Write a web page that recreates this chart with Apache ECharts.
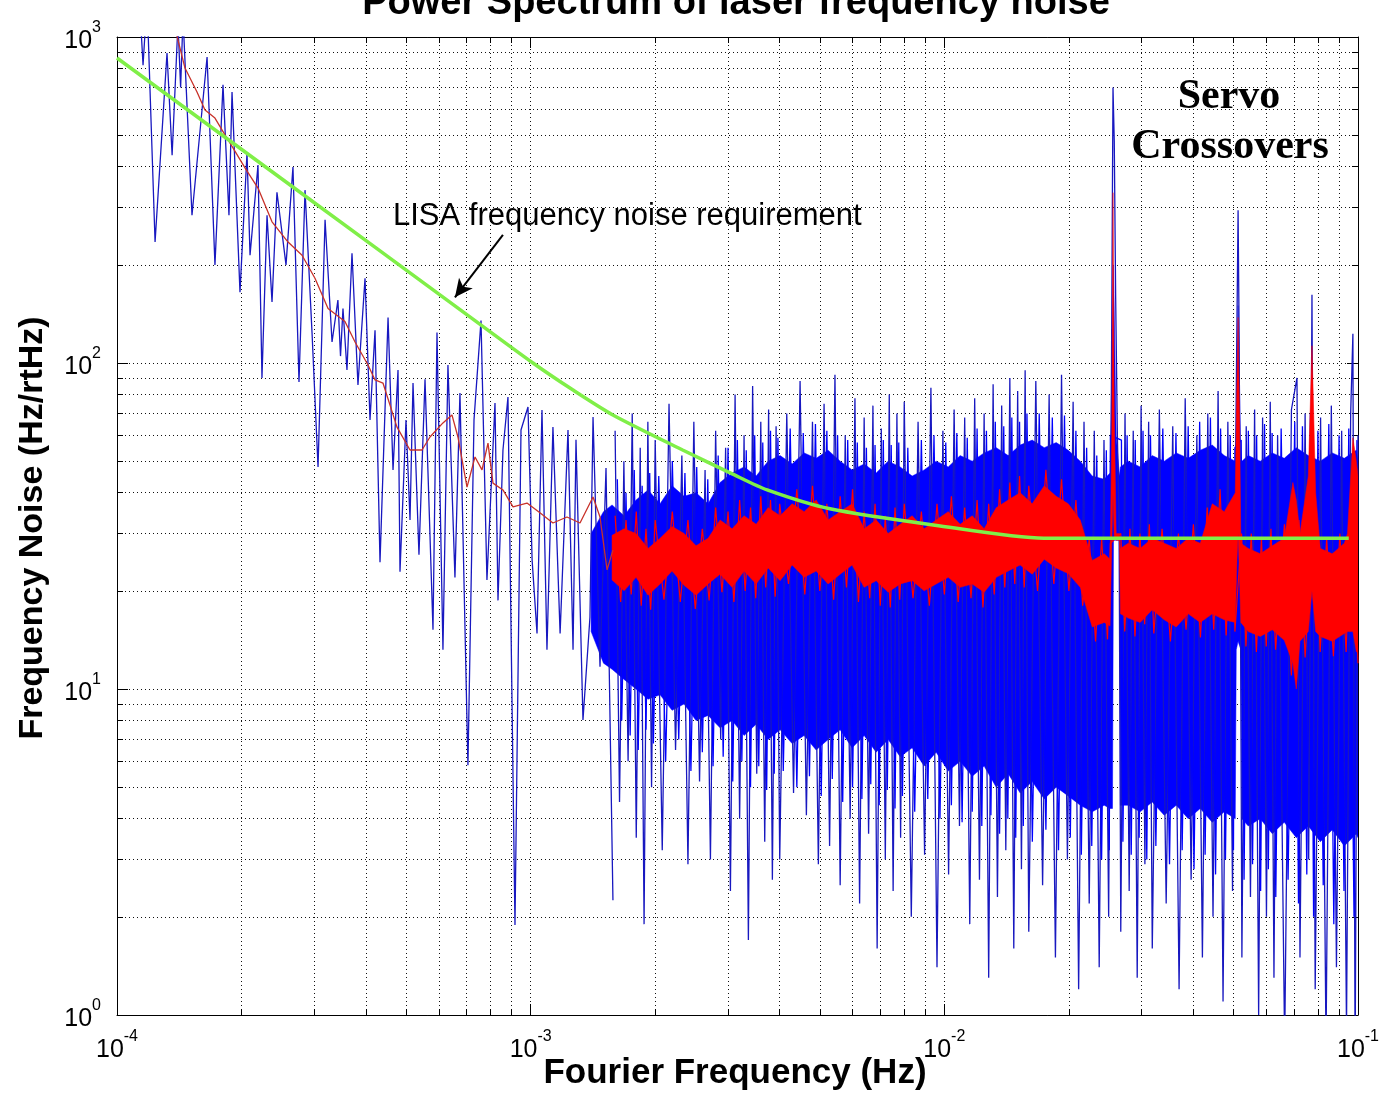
<!DOCTYPE html>
<html>
<head>
<meta charset="utf-8">
<title>Power Spectrum of laser frequency noise</title>
<script src="https://cdn.jsdelivr.net/npm/echarts@6.0.0/dist/echarts.min.js"></script>
<style>
  html, body { margin: 0; padding: 0; background: #fff; }
  #chart { width: 1385px; height: 1103px; }
</style>
</head>
<body>
<div id="chart"></div>
<script>
// all frequencies below are in mHz, noise values in Hz/rtHz

// raw spectrum, low-frequency part (individual bins still visible)
const blueSparse = [
  [0.100, 1400], [0.1063, 1800], [0.1137, 1200], [0.1156, 820], [0.1182, 1300], [0.1236, 235],
  [0.1321, 893], [0.1359, 434], [0.1404, 1100], [0.1425, 700], [0.1444, 1150], [0.1518, 284],
  [0.1651, 868], [0.1725, 200], [0.1804, 713], [0.1865, 284], [0.1897, 678], [0.1983, 165],
  [0.2062, 441], [0.2097, 214], [0.2192, 405], [0.2241, 89.9], [0.2305, 284], [0.2370, 154],
  [0.2436, 334], [0.2562, 200], [0.2663, 399], [0.2754, 87.4], [0.2848, 339], [0.2961, 124],
  [0.3062, 48.0], [0.3184, 275], [0.3310, 116], [0.3420, 156], [0.3470, 105], [0.3518, 147],
  [0.3597, 95.2], [0.3699, 217], [0.3824, 85.6], [0.3977, 182], [0.4089, 66.9], [0.4205, 126],
  [0.4323, 24.5], [0.4521, 138], [0.4648, 47.0], [0.4779, 95.2], [0.4832, 22.9], [0.4996, 66.9],
  [0.5109, 33.0], [0.5195, 86.8], [0.5370, 25.8], [0.5554, 89.2], [0.5806, 15.2], [0.5937, 124],
  [0.6137, 13.2], [0.6310, 98.6], [0.6561, 22.0], [0.6746, 80.9], [0.7053, 5.84], [0.7295, 66.9],
  [0.7585, 135], [0.7840, 21.6], [0.8199, 75.4], [0.8337, 18.7], [0.8571, 54.1], [0.8813, 78.6],
  [0.9164, 1.89], [0.9476, 62.3], [0.9852, 73.3], [1.008, 24.9], [1.036, 14.8], [1.065, 71.7],
  [1.095, 13.2], [1.132, 63.6], [1.178, 14.8], [1.231, 62.3], [1.266, 13.2], [1.287, 58.1],
  [1.338, 8.03], [1.391, 16.6], [1.415, 68.3], [1.471, 11.7], [1.521, 47.6], [1.581, 2.25]
];

// raw spectrum, dense part: outer spikes up and down
const blueDense = [
  [1.60, 62], [1.64, 4.5], [1.68, 50], [1.72, 6.0], [1.76, 70], [1.80, 3.5], [1.84, 55], [1.88, 1.9],
  [1.92, 66], [1.96, 5.0],
  [2.00, 58], [2.08, 3.2], [2.16, 75], [2.24, 6.5], [2.32, 52], [2.40, 2.9], [2.48, 66], [2.56, 5.2],
  [2.64, 47], [2.72, 3.0], [2.80, 62], [2.88, 7.0], [2.96, 55], [3.04, 2.4], [3.12, 80], [3.20, 4.0],
  [3.28, 60], [3.36, 1.7], [3.44, 85], [3.52, 5.5], [3.60, 66], [3.68, 3.4], [3.76, 72], [3.84, 2.6],
  [3.92, 64],
  [4.00, 3.0], [4.16, 70], [4.32, 4.8], [4.48, 88], [4.64, 4.1], [4.80, 66], [4.96, 2.9], [5.12, 75],
  [5.28, 3.3], [5.44, 92], [5.60, 2.5], [5.76, 60], [5.92, 4.0], [6.08, 78], [6.24, 2.2], [6.40, 68],
  [6.56, 3.6], [6.72, 74], [6.88, 1.6], [7.04, 63], [7.20, 3.0], [7.36, 80], [7.52, 2.4], [7.68, 70],
  [7.84, 3.5],
  [8.00, 76], [8.32, 2.0], [8.64, 66], [8.96, 3.1], [9.28, 84], [9.60, 1.4], [9.92, 62], [10.24, 2.7],
  [10.56, 72], [10.88, 3.8], [11.20, 68], [11.52, 1.9], [11.84, 78], [12.16, 2.6], [12.48, 70],
  [12.80, 1.3], [13.12, 86], [13.44, 2.3], [13.76, 74], [14.08, 3.2], [14.40, 90], [14.72, 1.6],
  [15.04, 82], [15.36, 2.8], [15.68, 95],
  [16.00, 1.8], [16.64, 88], [17.28, 2.5], [17.92, 80], [18.56, 1.5], [19.20, 92], [19.84, 3.0],
  [20.48, 76], [21.12, 1.2], [21.76, 66], [22.40, 2.2], [23.04, 62], [23.68, 1.4], [24.32, 58],
  [24.96, 2.0],
  [25.40, 150], [25.57, 700], [25.75, 480], [25.95, 160], [26.20, 60], [26.45, 33],
  [26.70, 1.8], [27.34, 70], [27.98, 2.4], [28.62, 62], [29.26, 1.3], [29.90, 74], [30.54, 2.9],
  [31.18, 66], [31.82, 1.6],
  [33.10, 72], [34.38, 2.2], [35.66, 64], [36.94, 1.2], [38.22, 78], [39.50, 2.6], [40.78, 60],
  [42.06, 1.5], [43.34, 70], [44.62, 2.0], [45.90, 82], [47.18, 1.1], [48.46, 66], [49.74, 2.4],
  [50.50, 40], [50.90, 110], [51.30, 294], [51.60, 120], [51.90, 30],
  [52.40, 1.5], [53.68, 64], [54.96, 2.3], [56.24, 72], [57.52, 1.0], [58.80, 68], [60.08, 2.0],
  [61.36, 76], [62.64, 1.3], [63.92, 60],
  [66.48, 0.8], [69.04, 72], [71.20, 90], [72.40, 1.5], [74.50, 70], [76.00, 3.0], [77.40, 162],
  [78.80, 1.2], [81.20, 68], [83.70, 0.8], [86.20, 74], [88.70, 1.4], [91.30, 62], [93.80, 0.9],
  [96.00, 70], [97.20, 123], [98.40, 0.7], [100, 60]
];

// raw spectrum, dense part: shorter spikes hugging the solid core
const blueFuzz = [
  [1.62, 44], [1.66, 8.0], [1.70, 40], [1.74, 7.2], [1.78, 47], [1.82, 6.5], [1.86, 42], [1.90, 7.5],
  [1.94, 46], [1.98, 6.8],
  [2.04, 45], [2.12, 6.0], [2.20, 50], [2.28, 7.0], [2.36, 46], [2.44, 5.6], [2.52, 48], [2.60, 6.4],
  [2.68, 44], [2.76, 5.8], [2.84, 52], [2.92, 6.2], [3.00, 55], [3.08, 5.2], [3.16, 58], [3.24, 6.0],
  [3.32, 54], [3.40, 5.0], [3.48, 60], [3.56, 5.8], [3.64, 57], [3.72, 4.9], [3.80, 62], [3.88, 5.5],
  [3.96, 59],
  [4.08, 5.6], [4.24, 63], [4.40, 5.0], [4.56, 61], [4.72, 5.4], [4.88, 65], [5.04, 4.7], [5.20, 62],
  [5.36, 5.3], [5.52, 60], [5.68, 4.5], [5.84, 58], [6.00, 5.0], [6.16, 57], [6.32, 4.6], [6.48, 55],
  [6.64, 5.1], [6.80, 56], [6.96, 4.4], [7.12, 58], [7.28, 4.9], [7.44, 56], [7.60, 4.3], [7.76, 57],
  [7.92, 4.7],
  [8.16, 55], [8.48, 4.2], [8.80, 58], [9.12, 4.6], [9.44, 60], [9.76, 4.0], [10.08, 57], [10.40, 4.4],
  [10.72, 61], [11.04, 3.9], [11.36, 59], [11.68, 4.2], [12.00, 63], [12.32, 3.8], [12.64, 62],
  [12.96, 4.1], [13.28, 66], [13.60, 3.6], [13.92, 64], [14.24, 4.0], [14.56, 68], [14.88, 3.5],
  [15.20, 66], [15.52, 3.8], [15.84, 70],
  [16.32, 3.4], [16.96, 70], [17.60, 3.7], [18.24, 68], [18.88, 3.2], [19.52, 69], [20.16, 3.5],
  [20.80, 62], [21.44, 3.1], [22.08, 55], [22.72, 3.3], [23.36, 52], [24.00, 3.0], [24.64, 54],
  [25.05, 3.2], [25.20, 60],
  [26.80, 58], [27.02, 3.4], [27.66, 60], [28.30, 3.1], [28.94, 58], [29.58, 3.5], [30.22, 62],
  [30.86, 3.0], [31.50, 60], [32.46, 3.3], [33.74, 63], [35.02, 2.9], [36.30, 61], [37.58, 3.2],
  [38.86, 64], [40.14, 2.8], [41.42, 66], [42.70, 3.1], [43.98, 68], [45.26, 2.7], [46.54, 63],
  [47.82, 3.0], [49.10, 60], [50.00, 3.2], [50.40, 55],
  [52.20, 58], [53.04, 2.6], [54.32, 62], [55.60, 2.9], [56.88, 60], [58.16, 2.4], [59.44, 65],
  [60.72, 2.8], [62.00, 61], [63.28, 2.3], [65.20, 63], [67.76, 2.6], [70.32, 66], [71.80, 2.2],
  [73.40, 64], [75.20, 2.7], [76.70, 70], [78.10, 2.0], [80.00, 62], [82.40, 2.5], [85.00, 65],
  [87.40, 1.9], [90.00, 60], [92.50, 2.4], [95.00, 63], [97.80, 2.0], [99.40, 58]
];

// solid core of the raw spectrum: [mHz, upper, lower]
const blueBand = [
  [1.40, 30, 15], [1.50, 35, 12],
  [1.573, 36.7, 11.5], [1.682, 34, 10.7], [1.798, 38, 10], [1.922, 40.8, 9.3], [2.055, 37, 9.6],
  [2.197, 42, 8.6], [2.349, 39, 9.0], [2.511, 40, 8.0], [2.685, 37, 8.3], [2.870, 43, 7.6],
  [3.069, 46, 8.0], [3.281, 48, 7.2], [3.508, 45, 7.8], [3.750, 50, 7.0], [4.009, 52, 7.5],
  [4.286, 49, 6.8], [4.582, 53, 7.2], [4.899, 51, 6.5], [5.237, 54, 7.0], [5.599, 50, 7.5],
  [5.986, 47, 6.6], [6.400, 49, 7.2], [6.842, 46, 6.4], [7.315, 50, 7.0], [7.820, 48, 6.2],
  [8.361, 45, 6.6], [8.938, 47, 5.8], [9.556, 50, 6.4], [10.22, 48, 5.6], [10.92, 52, 6.0],
  [11.68, 50, 5.4], [12.48, 53, 5.8], [13.35, 55, 5.0], [14.27, 52, 5.5], [15.25, 56, 4.8],
  [16.31, 58, 5.2], [17.44, 55, 4.6], [18.64, 57, 5.0], [19.93, 54, 4.7], [21.31, 50, 4.4],
  [22.78, 45, 4.2], [24.35, 44, 4.4], [25.15, 46, 4.3], [25.50, 120, 4.3], [25.64, 200, 28.6],
  [26.03, 60, 28.6], [26.50, 45, 28.6], [26.65, 48, 4.4], [27.83, 50, 4.4], [29.75, 48, 4.2],
  [31.81, 52, 4.5], [34.01, 50, 4.1], [36.36, 53, 4.4], [38.87, 51, 4.0], [41.56, 54, 4.3],
  [44.43, 56, 3.9], [47.50, 52, 4.2], [50.50, 50, 4.0], [50.78, 60, 13.2], [51.30, 150, 14],
  [52.10, 50, 13.2], [52.40, 50, 4.0], [54.29, 52, 3.8], [58.04, 50, 4.0], [62.05, 53, 3.6],
  [66.34, 51, 3.9], [70.93, 55, 3.5], [75.83, 52, 3.8], [81.07, 50, 3.4], [86.67, 53, 3.7],
  [92.66, 51, 3.3], [99.06, 54, 3.6], [100, 50, 3.5]
];

// averaged spectrum, low-frequency trace
const redTrend = [
  [0.1385, 1050], [0.1460, 803], [0.1561, 678], [0.1632, 597], [0.1725, 564], [0.1824, 501],
  [0.1907, 457], [0.2039, 397], [0.2192, 344], [0.2370, 271], [0.2591, 235], [0.2801, 214],
  [0.3010, 182], [0.3237, 147], [0.3557, 134], [0.3762, 116], [0.4044, 98.6], [0.4205, 88.7],
  [0.4395, 86.8], [0.4752, 63.6], [0.5109, 54.1], [0.5462, 54.1], [0.5709, 59.3], [0.6137, 65.5],
  [0.6452, 69.3], [0.6671, 59.3], [0.7017, 41.6], [0.7336, 51.5], [0.7627, 47.0], [0.7886, 56.8],
  [0.8108, 42.8], [0.8571, 40.8], [0.9063, 36.2], [0.9797, 37.2], [1.053, 34.7], [1.132, 32.3],
  [1.224, 33.7], [1.316, 32.3], [1.415, 38.8], [1.471, 33.7], [1.530, 23.2], [1.581, 26.7]
];

// averaged spectrum, dense part: [mHz, upper, lower]
const redBand = [
  [1.573, 29.6, 21.6], [1.682, 31, 20], [1.798, 30, 22], [1.922, 27, 19.4], [2.055, 29, 21],
  [2.197, 31.5, 23], [2.349, 30, 20.8], [2.511, 27.5, 19.4], [2.685, 29, 21], [2.870, 33, 22.5],
  [3.069, 31, 20.5], [3.281, 34, 23], [3.508, 32, 21], [3.750, 36, 23.5], [4.009, 34, 21.5],
  [4.286, 37, 24], [4.582, 35, 22], [4.899, 38, 23], [5.237, 33, 21], [5.599, 35, 22.5],
  [5.986, 37, 24], [6.400, 31, 20.5], [6.842, 33, 21.5], [7.315, 30, 19.8], [7.820, 32, 21],
  [8.361, 34, 21.5], [8.938, 31, 20], [9.556, 33, 21], [10.22, 35, 22], [10.92, 32, 20.5],
  [11.68, 34, 21], [12.48, 31, 19.8], [13.35, 36, 22], [14.27, 38, 23], [15.25, 40, 24],
  [16.31, 37, 22.5], [17.44, 42, 25], [18.64, 39, 23.5], [19.93, 37, 22.6], [21.31, 33, 20.5],
  [22.78, 24.8, 15.5], [24.35, 26, 16], [25.15, 25, 15.6], [25.40, 60, 28], [25.57, 333, 40],
  [25.75, 70, 29], [26.03, 30, 28.6], [26.50, 30, 28.6], [26.65, 27, 17], [27.83, 28, 16.5],
  [29.75, 27, 16], [31.81, 29, 17.5], [34.01, 28, 16.3], [36.36, 27, 15.5], [38.87, 29, 17],
  [41.56, 28, 16], [44.43, 37, 17], [47.50, 35, 16.3], [50.50, 40, 16], [51.00, 90, 25],
  [51.30, 138, 30], [51.70, 70, 22], [52.10, 28, 16], [54.29, 27, 15], [58.04, 26, 14.5],
  [62.05, 27.5, 15.2], [66.34, 29, 14.1], [69.60, 43, 12], [70.93, 38, 10], [72.40, 30, 14],
  [75.83, 45, 15], [77.40, 113, 20], [79.00, 40, 15], [81.07, 27, 14.5], [86.67, 26, 14],
  [92.66, 28, 14.8], [94.30, 30, 15], [97.20, 59, 15], [99.06, 50, 13], [100, 45, 13]
];

// averaged spectrum, dense part: ragged edge of the band
const redFuzz = [
  [1.60, 34], [1.65, 18.5], [1.70, 33], [1.75, 19.5], [1.80, 35], [1.85, 18], [1.90, 31], [1.95, 17.5],
  [2.00, 33], [2.10, 18.8], [2.20, 35], [2.30, 18.5], [2.40, 33], [2.50, 17.6], [2.60, 31], [2.70, 18.7],
  [2.80, 36], [2.90, 19.8], [3.00, 35], [3.10, 18.5], [3.20, 38], [3.30, 20], [3.40, 36], [3.50, 19],
  [3.60, 39], [3.70, 20.5], [3.80, 38], [3.90, 19.2], [4.00, 37],
  [4.20, 21], [4.40, 41], [4.60, 19.5], [4.80, 42], [5.00, 20], [5.20, 37], [5.40, 18.8], [5.60, 39],
  [5.80, 20.5], [6.00, 41], [6.20, 18.5], [6.40, 35], [6.60, 19], [6.80, 37], [7.00, 18], [7.20, 34],
  [7.40, 17.8], [7.60, 36], [7.80, 18.8], [8.00, 37],
  [8.40, 19], [8.80, 35], [9.20, 18], [9.60, 37], [10.0, 19.5], [10.4, 39], [10.8, 18.5], [11.2, 36],
  [11.6, 19], [12.0, 38], [12.4, 17.8], [12.8, 37], [13.2, 19.5], [13.6, 41], [14.0, 20.5], [14.4, 43],
  [14.8, 21], [15.2, 45], [15.6, 20.5], [16.0, 42],
  [16.8, 20], [17.6, 47], [18.4, 21], [19.2, 44], [20.0, 20], [20.8, 38], [21.6, 18], [22.4, 29],
  [23.2, 14], [24.0, 29], [24.8, 14.2], [25.2, 28],
  [26.7, 30], [27.3, 15], [28.1, 31], [28.9, 14.5], [29.7, 30], [30.5, 15.8], [31.3, 32], [32.1, 14.8],
  [33.6, 31], [35.2, 14], [36.8, 30], [38.4, 15.2], [40.0, 32], [41.6, 14.4], [43.2, 36], [44.8, 15.2],
  [46.4, 41], [48.0, 14.6], [49.6, 38], [50.4, 15],
  [52.3, 30], [53.6, 13.5], [55.2, 30], [56.8, 13], [58.4, 29], [60.0, 13.5], [61.6, 31], [63.2, 13.2],
  [66.4, 32], [69.0, 11], [72.0, 33], [74.5, 12.5], [78.5, 40], [81.0, 13], [84.0, 29], [87.2, 12.6],
  [90.4, 30], [93.6, 13], [96.8, 45], [100, 12]
];

// LISA frequency noise requirement
const lisaReq = [
  [0.100, 862], [0.277, 334], [0.628, 156], [1.013, 100], [1.266, 82.6], [1.58, 69.3],
  [2.33, 54.1], [3.08, 45.6], [3.73, 40.8], [5.29, 35.7], [9.49, 31.8], [17.4, 29.0], [95.0, 29.0]
];

// annotation arrow: [tail, head]
const arrowPts = [[0.857, 247], [0.656, 159]];

const BLUE = '#0000ff';
const BLUE_LINE = '#1818c0';
const RED = '#ff0000';
const GREEN = '#80ef48';
const FONT = '"Liberation Sans", Arial, sans-serif';

const toHz = p => [p[0] / 1000, p[1]];

const bandSeries = (band, color, z) => ({
  type: 'custom',
  coordinateSystem: 'cartesian2d',
  clip: true,
  silent: true,
  animation: false,
  z: z,
  data: band.map(b => [b[0] / 1000, b[1], b[2]]),
  encode: { x: 0, y: [1, 2] },
  renderItem: (params, api) => {
    if (params.dataIndex !== 0) return null;
    const upper = band.map(b => api.coord([b[0] / 1000, b[1]]));
    const lower = band.map(b => api.coord([b[0] / 1000, b[2]])).reverse();
    return {
      type: 'polygon',
      shape: { points: upper.concat(lower) },
      style: { fill: color, stroke: color, lineWidth: 0.5 }
    };
  }
});

const traceSeries = (pts, color, width, z) => ({
  type: 'line', data: pts.map(toHz), symbol: 'none', clip: true, silent: true, z: z,
  lineStyle: { color: color, width: width }
});

const labelRich = {
  b: { fontSize: 25, fontFamily: FONT, color: '#000', lineHeight: 34, verticalAlign: 'bottom' },
  s: { fontSize: 16, fontFamily: FONT, color: '#000', lineHeight: 18, verticalAlign: 'top' }
};
const powLabel = v => '{b|10}{s|' + Math.round(Math.log10(v)) + '}';

const gridDots = { color: '#111', width: 1, type: [1, 3] };

const mkX = (pos, labels) => ({
  type: 'log', logBase: 10, min: 1e-4, max: 0.1, position: pos,
  axisLine: { show: true, onZero: false, lineStyle: { color: '#000', width: 1 } },
  axisTick: { show: true, inside: true, length: 11, lineStyle: { color: '#000' } },
  minorTick: { show: true, splitNumber: 9, length: 6, lineStyle: { color: '#000' } },
  splitLine: { show: labels, lineStyle: gridDots },
  minorSplitLine: { show: labels, lineStyle: gridDots },
  axisLabel: labels ? {
    show: true, margin: 14, formatter: powLabel, rich: labelRich,
    showMinLabel: true, showMaxLabel: true
  } : { show: false }
});

const mkY = (pos, labels) => ({
  type: 'log', logBase: 10, min: 1, max: 1000, position: pos,
  axisLine: { show: true, onZero: false, lineStyle: { color: '#000', width: 1 } },
  axisTick: { show: true, inside: true, length: 11, lineStyle: { color: '#000' } },
  minorTick: { show: true, splitNumber: 9, length: 6, lineStyle: { color: '#000' } },
  splitLine: { show: labels, lineStyle: gridDots },
  minorSplitLine: { show: labels, lineStyle: gridDots },
  axisLabel: labels ? {
    show: true, margin: 16, formatter: powLabel, rich: labelRich,
    showMinLabel: true, showMaxLabel: true
  } : { show: false }
});

const chart = echarts.init(document.getElementById('chart'), null, { renderer: 'canvas' });

chart.setOption({
  backgroundColor: '#fff',
  animation: false,
  grid: { left: 117, right: 27, top: 37, bottom: 88, containLabel: false },
  xAxis: [mkX('bottom', true), mkX('top', false)],
  yAxis: [mkY('left', true), mkY('right', false)],
  graphic: [
    {
      type: 'text', x: 736, y: 4, silent: true,
      style: { text: 'Power Spectrum of laser frequency noise', font: 'bold 38px ' + FONT,
        fill: '#000', align: 'center', verticalAlign: 'middle' }
    },
    {
      type: 'text', x: 735, y: 1073, silent: true,
      style: { text: 'Fourier Frequency (Hz)', font: 'bold 35px ' + FONT,
        fill: '#000', align: 'center', verticalAlign: 'middle' }
    },
    {
      type: 'text', x: 33, y: 528, rotation: Math.PI / 2, silent: true,
      style: { text: 'Frequency Noise (Hz/rtHz)', font: 'bold 34px ' + FONT,
        fill: '#000', align: 'center', verticalAlign: 'middle' }
    },
    {
      type: 'text', x: 393, y: 216, silent: true, z: 100,
      style: { text: 'LISA frequency noise requirement', font: '31px ' + FONT,
        fill: '#000', align: 'left', verticalAlign: 'middle' }
    },
    {
      type: 'text', x: 1229, y: 97, silent: true, z: 100,
      style: { text: 'Servo', font: 'bold 42px "Liberation Serif", "Times New Roman", serif',
        fill: '#000', align: 'center', verticalAlign: 'middle' }
    },
    {
      type: 'text', x: 1230, y: 147, silent: true, z: 100,
      style: { text: 'Crossovers', font: 'bold 42px "Liberation Serif", "Times New Roman", serif',
        fill: '#000', align: 'center', verticalAlign: 'middle' }
    }
  ],
  series: [
    bandSeries(blueBand, BLUE, 2),
    traceSeries(blueSparse, BLUE_LINE, 1.3, 3),
    traceSeries(blueDense, BLUE_LINE, 1.3, 3),
    traceSeries(blueFuzz, BLUE, 1.3, 3),
    bandSeries(redBand, RED, 4),
    traceSeries(redFuzz, RED, 1.2, 5),
    traceSeries(redTrend, '#c8322a', 1.3, 5),
    {
      type: 'line', data: lisaReq.map(toHz), symbol: 'none', clip: true, smooth: 0.25,
      lineStyle: { color: GREEN, width: 3.5 }, silent: true, z: 6,
      markLine: {
        silent: true, symbol: ['none', 'arrow'], symbolSize: [13, 18],
        lineStyle: { color: '#000', width: 2, type: 'solid' },
        label: { show: false },
        data: [[{ coord: toHz(arrowPts[0]) }, { coord: toHz(arrowPts[1]) }]]
      }
    }
  ]
});
</script>
</body>
</html>
